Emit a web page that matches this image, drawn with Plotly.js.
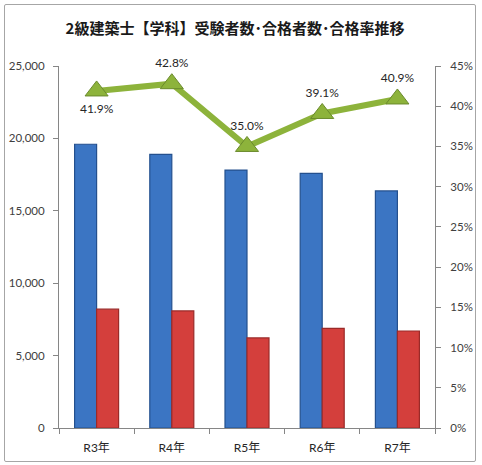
<!DOCTYPE html>
<html>
<head>
<meta charset="utf-8">
<script src="https://cdn.plot.ly/plotly-3.0.1.min.js"></script>
<style>
html,body{margin:0;padding:0;background:#fff;}
#wrap{position:relative;width:482px;height:465px;}
#chart{width:482px;height:465px;}
#frame{position:absolute;left:4px;top:4px;width:470px;height:456px;border:1.5px solid #a6a6a6;border-radius:2px;pointer-events:none;}
</style>
</head>
<body>
<div id="wrap"><div id="chart"></div><div id="frame"></div></div>
<script>
const categories = ['R3年', 'R4年', 'R5年', 'R6年', 'R7年'];
const examinees = [19596, 18893, 17815, 17580, 16370];
const passers = [8207, 8088, 6223, 6875, 6700];
const passRate = [0.419, 0.428, 0.350, 0.391, 0.409];
const rateLabels = ['41.9%', '42.8%', '35.0%', '39.1%', '40.9%'];
const labelPos = ['bottom center', 'top center', 'top center', 'top center', 'top center'];
const titleText = '2級建築士【学科】受験者数･合格者数･合格率推移';

const tickFont = {family: 'Lato, "Noto Sans CJK JP", sans-serif', size: 11.5, color: '#404040'};

const traces = [
  {type: 'bar', x: categories, y: examinees, name: '受験者数',
   marker: {color: '#3B75C3', line: {color: '#24508E', width: 1.2}}, hoverinfo: 'y'},
  {type: 'bar', x: categories, y: passers, name: '合格者数',
   marker: {color: '#D43F3C', line: {color: '#9A2A28', width: 1.2}}, hoverinfo: 'y'},
  {type: 'scatter', mode: 'lines+markers+text', x: categories, y: passRate, yaxis: 'y2', name: '合格率',
   line: {color: '#8DB33B', width: 6},
   marker: {symbol: 'triangle-up', size: 20, color: '#8DB33B', line: {color: '#6A8A2C', width: 1}},
   text: rateLabels, textposition: labelPos,
   textfont: {family: 'Lato, sans-serif', size: 12, color: '#262626'}, cliponaxis: false}
];

const layout = {
  width: 482, height: 465,
  margin: {l: 59, r: 47, t: 66, b: 37},
  paper_bgcolor: '#fff', plot_bgcolor: '#fff',
  showlegend: false,
  barmode: 'group', bargap: 0.415, bargroupgap: 0,
  title: {text: titleText, x: 235/482, xref: 'container', xanchor: 'center',
          y: 1 - 29/465, yref: 'container', yanchor: 'middle',
          font: {family: '"Noto Sans CJK JP", sans-serif', size: 15, color: '#1a1a1a', weight: 'bold'}},
  xaxis: {showline: true, linecolor: '#868686', linewidth: 1, ticks: 'outside', tickson: 'boundaries',
          ticklen: 5, tickcolor: '#868686', ticklabelstandoff: 9,
          tickfont: {family: 'Lato, "Noto Sans CJK JP", sans-serif', size: 12, color: '#262626'},
          showgrid: false, zeroline: false},
  yaxis: {range: [0, 25000], dtick: 5000, tickformat: ',d', showline: true, linecolor: '#868686', linewidth: 1,
          ticks: 'outside', ticklen: 5, tickcolor: '#868686', ticklabelstandoff: 6,
          tickfont: tickFont, showgrid: false, zeroline: false},
  yaxis2: {range: [0, 0.45], dtick: 0.05, tickformat: '.0%', overlaying: 'y', side: 'right', showline: true,
           linecolor: '#868686', linewidth: 1, ticks: 'outside', ticklen: 5, tickcolor: '#868686',
           ticklabelstandoff: 7, tickfont: tickFont, showgrid: false, zeroline: false}
};

Plotly.newPlot('chart', traces, layout, {displayModeBar: false, staticPlot: true});
</script>
</body>
</html>
